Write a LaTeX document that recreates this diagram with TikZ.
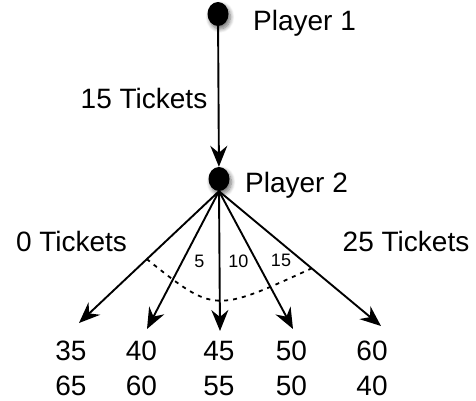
\documentclass[tikz,border=0pt]{standalone}
\usepackage{fontspec}
\setmainfont{Liberation Sans}
\usetikzlibrary{arrows.meta,shadows.blur,shapes.geometric}
\begin{document}
\begin{tikzpicture}[x=1pt,y=-1pt,
  dot/.style={ellipse,fill=black,minimum width=21pt,minimum height=24pt,inner sep=0pt,
    blur shadow={shadow xshift=2pt,shadow yshift=-3pt,shadow blur steps=8,shadow blur radius=4pt,shadow opacity=55}},
  lbl/.style={font=\fontsize{28}{28}\selectfont,inner sep=0pt},
  small/.style={font=\fontsize{18}{18}\selectfont,inner sep=0pt},
  arr/.style={line width=1.9pt,-{Stealth[length=21pt,width=17pt,inset=7pt]}},
  arc/.style={line width=1.8pt,dash pattern=on 4pt off 5pt}]
\useasboundingbox (0,0) rectangle (476,400);
\node[dot] (p1) at (218,14) {};
\node[dot] (p2) at (219,179) {};
\node[lbl,anchor=base west] (pl1) at (253,30) {Player 1};
\node[lbl,anchor=base west] (pl2) at (245,192) {Player 2};
\draw[arr] (p1) -- (p2);
\node[lbl,anchor=base] (t15) at (144,108) {15 Tickets};
\coordinate (e1) at (79,323);
\coordinate (e2) at (147,329);
\coordinate (e3) at (220,331);
\coordinate (e4) at (293,329);
\coordinate (e5) at (381,326);
\foreach \i in {1,...,5} \draw[arr] (p2.south) -- (e\i);
\draw[arc] (146.7,259) .. controls (214.2,312.95) .. (311.7,268.3);
\node[small] (s5) at (199.3,261) {5};
\node[small] (s10) at (238.3,261) {10};
\node[small] (s15) at (281,260) {15};
\node[lbl,anchor=base] (t0) at (71.5,251) {0 Tickets};
\node[lbl,anchor=base] (t25) at (406,251) {25 Tickets};
\node[lbl] (a1) at (71,350.5) {35};
\node[lbl] (b1) at (71,385.5) {65};
\node[lbl] (a2) at (141.5,350.5) {40};
\node[lbl] (b2) at (141.5,385.5) {60};
\node[lbl] (a3) at (219,350.5) {45};
\node[lbl] (b3) at (219,385.5) {55};
\node[lbl] (a4) at (291.5,350.5) {50};
\node[lbl] (b4) at (291.5,385.5) {50};
\node[lbl] (a5) at (372,350.5) {60};
\node[lbl] (b5) at (372,385.5) {40};
\end{tikzpicture}
\end{document}
